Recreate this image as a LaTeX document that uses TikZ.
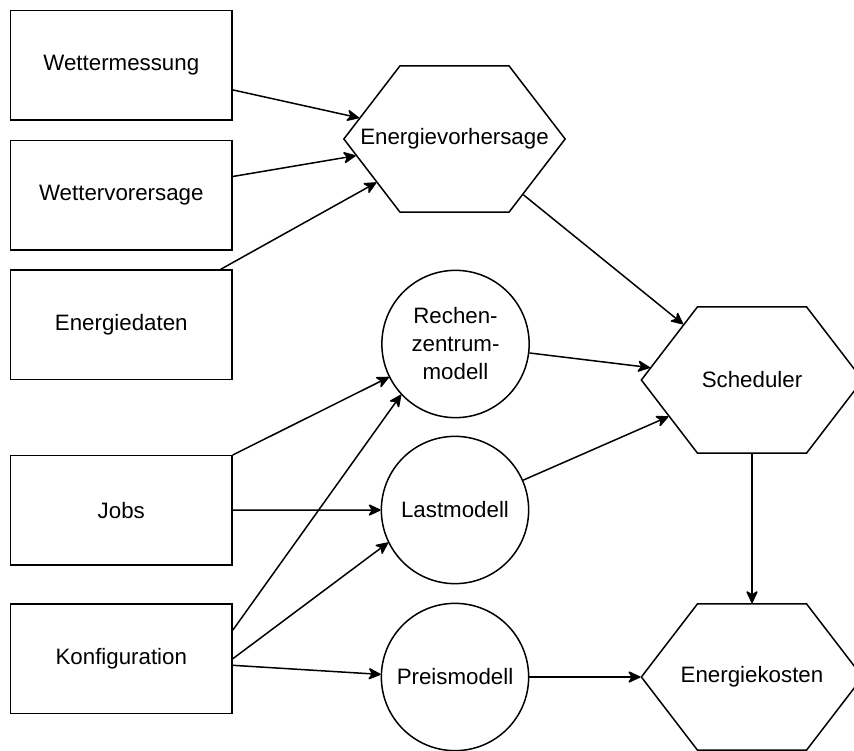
\documentclass[tikz,border=0pt]{standalone}
\usepackage{fontspec}
\setmainfont{Liberation Sans}
\usetikzlibrary{arrows.meta,shapes.symbols}

\begin{document}
\begin{tikzpicture}[x=1pt,y=-1pt,
  line width=1.5pt,
  font=\fontsize{22.3}{28}\selectfont,
  box/.style={draw, rectangle, minimum width=221.3pt, minimum height=109.3pt, inner sep=0pt},
  hexa/.style={draw, shape=signal, signal to=east and west, signal pointer angle=105,
               minimum width=221.3pt, minimum height=146.3pt, inner sep=0pt},
  model/.style={draw, circle, minimum size=147.3pt, inner sep=0pt, align=center},
  link/.style={-{Stealth[length=14pt,width=13pt,inset=4pt,round]}}
]
\clip (0,0) rectangle (854,751);

% inputs
\node[box] (wm)   at (121.3,65.3)  {Wettermessung};
\node[box] (wv)   at (121.3,195.3) {Wettervorersage};
\node[box] (ed)   at (121.3,324.7) {Energiedaten};
\node[box] (jobs) at (121.3,510.2) {Jobs};
\node[box] (konf) at (121.3,658.8) {Konfiguration};

% models
\node[model] (rz) at (455.5,344) {Rechen-\\zentrum-\\modell};
\node[model] (lm) at (455,510)   {Lastmodell};
\node[model] (pm) at (455,677)   {Preismodell};

% processing
\node[hexa, label={center:Energievorhersage}] (ev) at (454.5,139) {};
\node[hexa, label={center:Scheduler}]        (sch) at (752,380) {};
\node[hexa, label={center:Energiekosten}]    (ek)  at (752,677) {};

% connectors
\draw[link] (wm) -- (ev);
\draw[link] (wv) -- (ev);
\draw[link] (ed) -- (ev);
\draw[link] (ev) -- (sch);
\draw[link] (rz) -- (sch);
\draw[link] (lm) -- (sch);
\draw[link] (sch) -- (ek);
\draw[link] (pm) -- (ek);
\draw[link] (jobs) -- (rz);
\draw[link] (jobs) -- (lm);
\draw[link] ([yshift=28.5pt]konf.east) -- (rz.223);
\draw[link] (konf.east) -- (lm.206);
\draw[link] ([yshift=-6.5pt]konf.east) -- (pm.178.5);
\end{tikzpicture}
\end{document}
